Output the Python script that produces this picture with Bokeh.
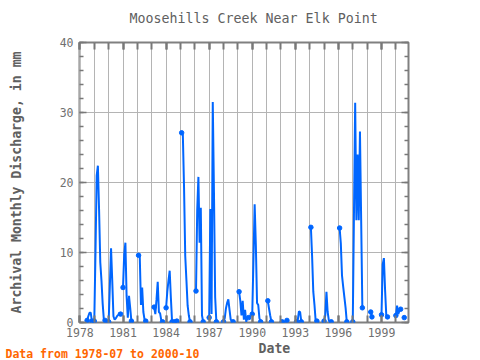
import math
from bokeh.plotting import figure
from bokeh.models import Range1d, FixedTicker, LinearAxis, Title, CustomJSTickFormatter
from bokeh.embed import file_html
from bokeh.resources import INLINE

# ---- data: monthly discharge (mm), one season per year: (year, first month, values) ----
season_years = [1978, 1979, 1980, 1981, 1982, 1983, 1984, 1985, 1986, 1987, 1988,
                1989, 1990, 1991, 1992, 1993, 1994, 1995, 1996, 1997, 1998, 1999, 2000]
season_first_month = [7, 1, 1, 1, 2, 3, 1, 2, 2, 1, 1,
                      2, 1, 2, 2, 2, 2, 1, 2, 1, 4, 1, 1]
nan = float("nan")
v1978 = [0.3, 0.9, 1.4, 1.4, 0.2]
v1979 = [0.2, 10.0, 21.0, 22.4, 16.1, 8.6, 6.0, 2.7, 0.4, 0.3]
v1980 = [0.1, 5.2, 10.6, 6.0, 0.9, 0.4, 0.6, 0.9, 1.1, 1.4, 1.2]
v1981 = [5.0, 9.7, 11.4, 3.8, 0.7, 3.8, 2.1, 0.2]
v1982 = [9.6, 9.4, 2.5, 5.0, 1.5, 0.4, 0.2]
v1983 = [2.2, 1.2, 3.3, 5.8, 1.5, 1.3, 0.3, 0.1]
v1984 = [2.1, 4.4, 6.0, 7.4, 3.5, 0.1, nan, 0.1, 0.1, 0.2]
v1985 = [27.1, 26.8, 19.3, 9.5, 6.0, 2.4, 1.0, 0.1]
v1986 = [4.5, 16.0, 20.8, 11.4, 16.4, 1.0, 0.1]
v1987 = [0.7, 16.2, 1.2, 31.5, 18.6, 3.6, 0.1]
v1988 = [0.1, 0.6, 2.0, 2.8, 3.3, 1.8, 0.4, 0.2, 0.1]
v1989 = [4.4, 3.1, 1.0, 3.1, 0.4, 1.8, 0.1, 0.7, 0.7]
v1990 = [1.2, 9.0, 16.9, 11.1, 2.8, 2.5, 0.6, 0.1]
v1991 = [3.1, 2.0, 1.0, 0.1]
v1992 = [0.1, 0.0, 0.1, 0.1, 0.3]
v1993 = [0.1, 0.3, 1.6, 1.5, 0.1]
v1994 = [13.6, 9.5, 4.4, 2.5, 0.2, 0.2]
v1995 = [0.2, 1.0, 4.4, 1.5, 0.3, 0.1, 0.1]
v1996 = [13.5, 11.3, 6.7, 5.1, 3.6, 2.1, 0.1]
v1997 = [0.1, 15.7, 31.4, 14.6, 24.0, 14.6, 27.3, 14.7, 2.1]
v1998 = [1.5, 0.8]
v1999 = [1.1, 8.3, 9.2, 4.6, 1.0, 0.8]
v2000 = [1.0, 2.4, 1.2, 1.7, 1.9, nan, nan, 0.7]
season_values = [v1978, v1979, v1980, v1981, v1982, v1983, v1984, v1985, v1986, v1987,
                 v1988, v1989, v1990, v1991, v1992, v1993, v1994, v1995, v1996, v1997,
                 v1998, v1999, v2000]

x_ticks = [1978, 1981, 1984, 1987, 1990, 1993, 1996, 1999]
y_ticks = [0, 10, 20, 30, 40]

# ---- build monthly series 1978-07 .. 2000-10 ----
vals = {}
for yr, m0, vs in zip(season_years, season_first_month, season_values):
    for k, v in enumerate(vs):
        vals[(yr, m0 + k)] = v
xs, ys = [], []
for yr in range(1978, 2001):
    for m in range(1, 13):
        if (yr, m) < (1978, 7) or (yr, m) > (2000, 10):
            continue
        xs.append(yr + (m - 1) / 12.0)
        ys.append(vals.get((yr, m), nan))

def isnan(v):
    return v != v

mx, my = [], []
for i, v in enumerate(ys):
    if isnan(v):
        continue
    prev_nan = i == 0 or isnan(ys[i - 1])
    next_nan = i == len(ys) - 1 or isnan(ys[i + 1])
    if prev_nan or next_nan:
        mx.append(xs[i]); my.append(v)

# ---- figure ----
X0, X1 = 1977.97, 2000.88
W, H = 480, 360
FL, FR, FT, FB = 79, 408, 42, 322
FONT = "DejaVu Sans Mono"
GRID = "#b4b4b4"
TICKC = "#787878"
TXT = "#606060"

p = figure(width=W, height=H, output_backend="svg", toolbar_location=None,
           x_range=Range1d(X0, X1), y_range=Range1d(0, 40),
           min_border_left=FL, min_border_right=W - FR,
           min_border_top=FT, min_border_bottom=H - FB)
p.outline_line_color = "#808080"
p.outline_line_width = 2
p.background_fill_color = "white"
p.border_fill_color = "white"

p.title.text = "Moosehills Creek Near Elk Point"
p.title.align = "left"
p.title.offset = 50
p.title.vertical_align = "top"
p.title.text_font = FONT
p.title.text_font_size = "13.3px"
p.title.text_font_style = "normal"
p.title.text_color = TXT
p.title.standoff = 0

xt = FixedTicker(ticks=x_ticks, minor_ticks=list(range(1978, 2001)))
yt = FixedTicker(ticks=y_ticks, minor_ticks=list(range(0, 41, 2)))

def style_axis(ax, labels=True, xtick=True):
    ax.axis_line_color = None
    ax.major_tick_in = 7
    ax.major_tick_out = 0
    ax.minor_tick_in = 7 if xtick else 4
    ax.minor_tick_out = 0
    ax.major_tick_line_color = TICKC
    ax.minor_tick_line_color = TICKC
    ax.major_tick_line_width = 2 if xtick else 1.5
    ax.minor_tick_line_width = 2 if xtick else 1.5
    ax.major_label_text_font = FONT
    ax.major_label_text_font_size = "11.5px"
    ax.major_label_text_color = "#707070"
    ax.major_label_standoff = 5 if labels else 0
    if not labels:
        ax.formatter = CustomJSTickFormatter(code="return ''")

p.xaxis.ticker = xt
p.yaxis.ticker = yt
style_axis(p.xaxis[0], True, True)
style_axis(p.yaxis[0], True, False)
p.yaxis.major_label_standoff = 6
p.yaxis.axis_label = "Archival Monthly Discharge, in mm"
p.yaxis.axis_label_text_font = FONT
p.yaxis.axis_label_text_font_size = "13.2px"
p.yaxis.axis_label_text_font_style = "bold"
p.yaxis.axis_label_text_color = TXT
p.yaxis.axis_label_standoff = 33

top = LinearAxis(ticker=xt)
style_axis(top, False, True)
p.add_layout(top, "above")

# invisible spacer axis: reserves room between the frame and the title
spacer = LinearAxis(ticker=xt)
style_axis(spacer, False, True)
spacer.major_tick_in = 0
spacer.minor_tick_in = 0
spacer.major_tick_out = 15
spacer.major_tick_line_color = None
spacer.minor_tick_line_color = None
p.add_layout(spacer, "above")

right = LinearAxis(ticker=yt)
style_axis(right, False, False)
p.add_layout(right, "right")

p.xgrid.ticker = xt
p.xgrid.grid_line_color = GRID
p.xgrid.minor_grid_line_color = GRID
p.ygrid.ticker = yt
p.ygrid.grid_line_color = GRID

p.add_layout(Title(text="Date", align="left", offset=179, standoff=-1.5,
                   text_font=FONT, text_font_size="13.2px", text_font_style="bold",
                   text_color=TXT), "below")
p.add_layout(Title(text="Data from 1978-07 to 2000-10", align="left", offset=-74,
                   standoff=-17.5, vertical_align="top",
                   text_font=FONT, text_font_size="11.5px",
                   text_font_style="bold", text_color="#ff6600"), "below")

BLUE = "#0066ff"
p.line(xs, ys, line_color=BLUE, line_width=2)
p.scatter(mx, my, marker="circle", size=4.5, fill_color=BLUE, line_color=BLUE)

open("out.html", "w").write(file_html(p, INLINE))
